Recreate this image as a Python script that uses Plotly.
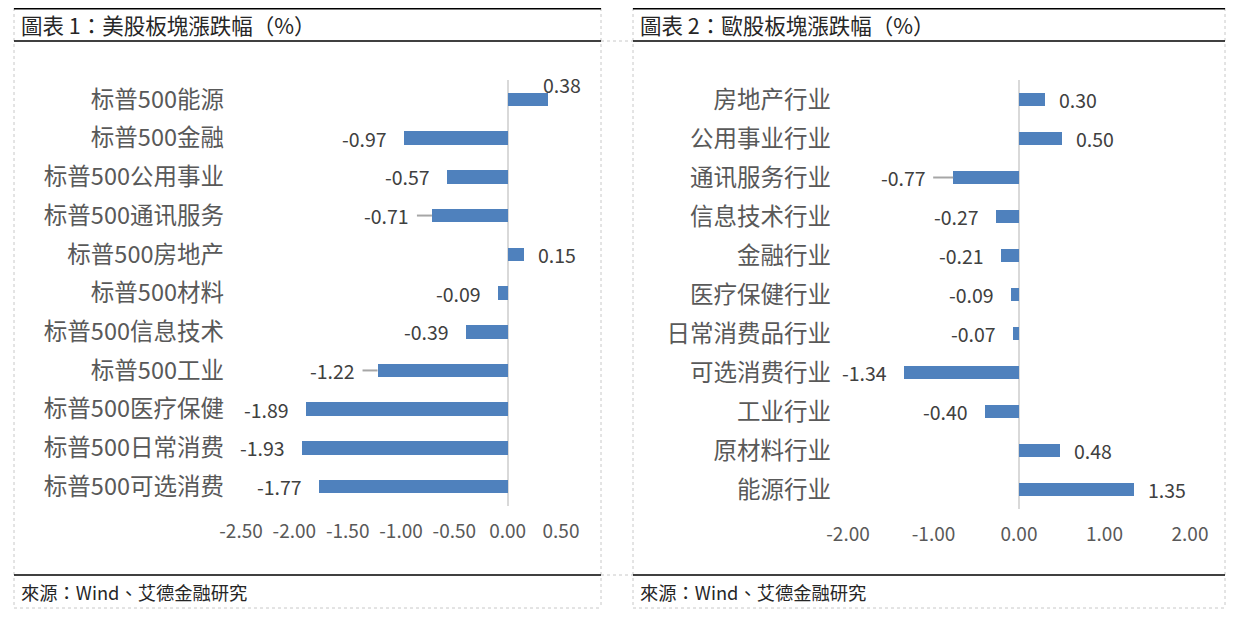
import plotly.graph_objects as go

# 美股 (top to bottom as shown)
us_sectors = ['标普500能源', '标普500金融', '标普500公用事业', '标普500通讯服务', '标普500房地产',
              '标普500材料', '标普500信息技术', '标普500工业', '标普500医疗保健', '标普500日常消费',
              '标普500可选消费']
us_values = [0.38, -0.97, -0.57, -0.71, 0.15, -0.09, -0.39, -1.22, -1.89, -1.93, -1.77]

# 欧股
eu_sectors = ['房地产行业', '公用事业行业', '通讯服务行业', '信息技术行业', '金融行业', '医疗保健行业',
              '日常消费品行业', '可选消费行业', '工业行业', '原材料行业', '能源行业']
eu_values = [0.30, 0.50, -0.77, -0.27, -0.21, -0.09, -0.07, -1.34, -0.40, 0.48, 1.35]

us_ticks = [-2.5, -2.0, -1.5, -1.0, -0.5, 0.0, 0.5]
eu_ticks = [-2.0, -1.0, 0.0, 1.0, 2.0]

# labels moved out with a leader line in the original
us_leader = ['标普500通讯服务', '标普500工业']
eu_leader = ['通讯服务行业']

W, H = 1243, 621
OFF = 8  # page body margin
BLUE = '#4F81BD'
CJK = 'Noto Sans CJK SC'


def px(x):
    return (x - OFF) / W


def py(y):
    return 1 - (y - OFF) / H


fig = go.Figure()
fig.add_trace(go.Bar(x=us_values, y=us_sectors, orientation='h', marker_color=BLUE,
                     width=0.35, xaxis='x', yaxis='y', hoverinfo='skip'))
fig.add_trace(go.Bar(x=eu_values, y=eu_sectors, orientation='h', marker_color=BLUE,
                     width=0.35, xaxis='x2', yaxis='y2', hoverinfo='skip'))

annotations = []
shapes = []

def add_labels(names, vals, leaders, xref, yref):
    for n, v in zip(names, vals):
        if v >= 0:
            anchor, shift = 'left', 12
        else:
            anchor, shift = 'right', -15
        ysh = 0
        if n == '标普500能源':
            shift, ysh = -7, 15
        if n in leaders:
            shift, lead = (-21, -15) if xref == 'x' else (-25, -20)
            shapes.append(dict(type='line', xref=xref, yref=yref, xsizemode='pixel', xanchor=v,
                               x0=lead, x1=0, y0=n, y1=n,
                               line=dict(color='#A6A6A6', width=2)))
        annotations.append(dict(x=v, y=n, xref=xref, yref=yref, text=f'{v:.2f}', showarrow=False,
                                xanchor=anchor, xshift=shift, yshift=ysh,
                                font=dict(family=CJK, size=19.5, color='#404040')))

add_labels(us_sectors, us_values, us_leader, 'x', 'y')
add_labels(eu_sectors, eu_values, eu_leader, 'x2', 'y2')

DASH = '3px,3px'
# panel frames, titles and sources
panels = [(14, 601, '圖表 1：美股板塊漲跌幅（%）'), (633, 1225, '圖表 2：歐股板塊漲跌幅（%）')]
for x0, x1, title in panels:
    for xx in (x0, x1):
        shapes.append(dict(type='line', xref='paper', yref='paper', x0=px(xx), x1=px(xx),
                           y0=py(8), y1=py(608), line=dict(color='#C8C8C8', width=1, dash=DASH)))
    shapes.append(dict(type='line', xref='paper', yref='paper', x0=px(x0), x1=px(x1),
                       y0=py(608), y1=py(608), line=dict(color='#C8C8C8', width=1, dash=DASH)))
    for yy, w in ((8.5, 2), (41, 1.5), (575, 1.5)):
        shapes.append(dict(type='line', xref='paper', yref='paper', x0=px(x0), x1=px(x1),
                           y0=py(yy), y1=py(yy), line=dict(color='black', width=w)))
    annotations.append(dict(x=px(x0 + 5), y=py(24), xref='paper', yref='paper', text=title,
                            showarrow=False, xanchor='left', yanchor='middle',
                            font=dict(family='Noto Sans CJK TC', size=21.5, color='#262626')))
    annotations.append(dict(x=px(x0 + 5), y=py(592), xref='paper', yref='paper',
                            text='來源：Wind、艾德金融研究', showarrow=False,
                            xanchor='left', yanchor='middle',
                            font=dict(family='Noto Sans CJK TC', size=18.3, color='#262626')))
for yy in (41, 575):
    shapes.append(dict(type='line', xref='paper', yref='paper', x0=px(601), x1=px(633),
                       y0=py(yy), y1=py(yy), line=dict(color='#C8C8C8', width=1, dash=DASH)))

xcommon = dict(showgrid=False, zeroline=True, zerolinecolor='#D9D9D9', zerolinewidth=2,
               showline=False, ticks='', fixedrange=True, automargin=False,
               tickfont=dict(family=CJK, size=19, color='#595959'), ticklabelstandoff=12)
ycommon = dict(showgrid=False, zeroline=False, showline=False, autorange='reversed', ticks='',
               automargin=False, fixedrange=True,
               tickfont=dict(family=CJK, size=23.5, color='#595959'), ticklabelstandoff=16)

fig.update_layout(
    template='none',
    width=W, height=H,
    margin=dict(l=0, r=0, t=0, b=0, pad=0),
    paper_bgcolor='white', plot_bgcolor='white',
    showlegend=False, bargap=0,
    xaxis=dict(xcommon, range=[-2.5, 0.5], tickvals=us_ticks,
               ticktext=[f'{t:.2f}' for t in us_ticks], domain=[px(241), px(561)], anchor='y'),
    yaxis=dict(ycommon, domain=[py(506), py(80)], anchor='x'),
    xaxis2=dict(xcommon, range=[-2.0, 2.0], tickvals=eu_ticks,
                ticktext=[f'{t:.2f}' for t in eu_ticks], domain=[px(848), px(1190)], anchor='y2'),
    yaxis2=dict(ycommon, domain=[py(509), py(80)], anchor='x2'),
    annotations=annotations,
    shapes=shapes,
)

fig.write_html("out.html")
